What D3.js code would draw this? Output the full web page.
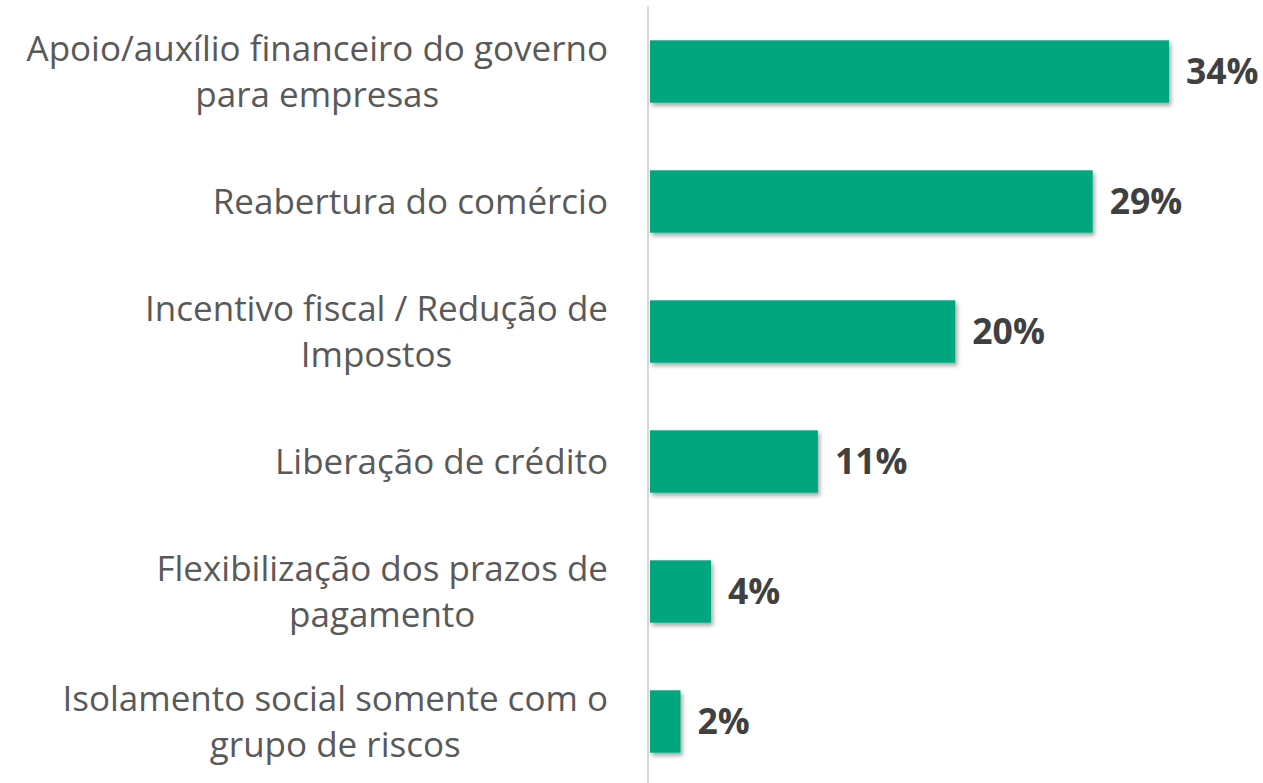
<!DOCTYPE html>
<html>
<head>
<meta charset="utf-8">
<script src="https://cdn.jsdelivr.net/npm/d3@7"></script>
<style>
  body { margin: 0; background: #fff; }
  svg { display: block; }
</style>
</head>
<body>
<div id="chartDiv"></div>
<script>
// data
var categories = [
  ["Apoio/auxílio financeiro do governo", "para empresas"],
  ["Reabertura do comércio"],
  ["Incentivo fiscal / Redução de", "Impostos"],
  ["Liberação de crédito"],
  ["Flexibilização dos prazos de", "pagamento"],
  ["Isolamento social somente com o", "grupo de riscos"]
];
var values = [34, 29, 20, 11, 4, 2];
var valueLabels = ["34%", "29%", "20%", "11%", "4%", "2%"];

var svg = d3.select("#chartDiv").append("svg")
    .attr("width", 1263)
    .attr("height", 783);

var defs = svg.append("defs");
var shadow = defs.append("filter").attr("id", "shadow")
    .attr("x", "-10%").attr("y", "-20%").attr("width", "130%").attr("height", "150%");
shadow.append("feDropShadow")
    .attr("dx", 2).attr("dy", 3).attr("stdDeviation", 2)
    .attr("flood-color", "#000").attr("flood-opacity", 0.35);

var x_scale = d3.scaleLinear()
    .domain([0, 34])
    .range([650, 1169]);

var y_scale = d3.scaleBand()
    .domain(d3.range(categories.length))
    .range([6.5, 786.5])
    .paddingInner(0.52)
    .paddingOuter(0.26);

// axis line
svg.append("line")
    .attr("x1", 648).attr("x2", 648)
    .attr("y1", 6).attr("y2", 783)
    .attr("stroke", "#d9d9d9")
    .attr("stroke-width", 2);

svg.append("g").selectAll("rect").data(values).enter()
  .append("rect")
    .attr("x", x_scale(0))
    .attr("y", function(d, i){ return y_scale(i); })
    .attr("width", function(d){ return x_scale(d) - x_scale(0); })
    .attr("height", y_scale.bandwidth())
    .attr("fill", "#00a67e")
    .attr("filter", "url(#shadow)");

svg.append("g").selectAll("text").data(values).enter()
  .append("text")
    .attr("x", function(d){ return x_scale(d) + 17; })
    .attr("y", function(d, i){ return y_scale(i) + y_scale.bandwidth() / 2; })
    .attr("dy", "0.36em")
    .attr("font-family", "'Open Sans', sans-serif")
    .attr("font-weight", "bold")
    .attr("font-size", 35.5)
    .attr("fill", "#404040")
    .text(function(d, i){ return valueLabels[i]; });

// category labels: block right aligned, lines centered inside block
var lineH = 46;
var labelRight = 608;
categories.forEach(function(lines, i) {
  var cy = y_scale(i) + y_scale.bandwidth() / 2;
  var g = svg.append("g");
  var texts = lines.map(function(line, j) {
    return g.append("text")
      .attr("y", cy + (j - (lines.length - 1) / 2) * lineH)
      .attr("dy", "0.36em")
      .attr("text-anchor", "middle")
      .attr("font-family", "'Open Sans', sans-serif")
      .attr("font-size", 35)
      .attr("fill", "#595959")
      .text(line);
  });
  var maxW = d3.max(texts, function(t){ return t.node().getComputedTextLength(); });
  texts.forEach(function(t){ t.attr("x", labelRight - maxW / 2); });
});
</script>
</body>
</html>
